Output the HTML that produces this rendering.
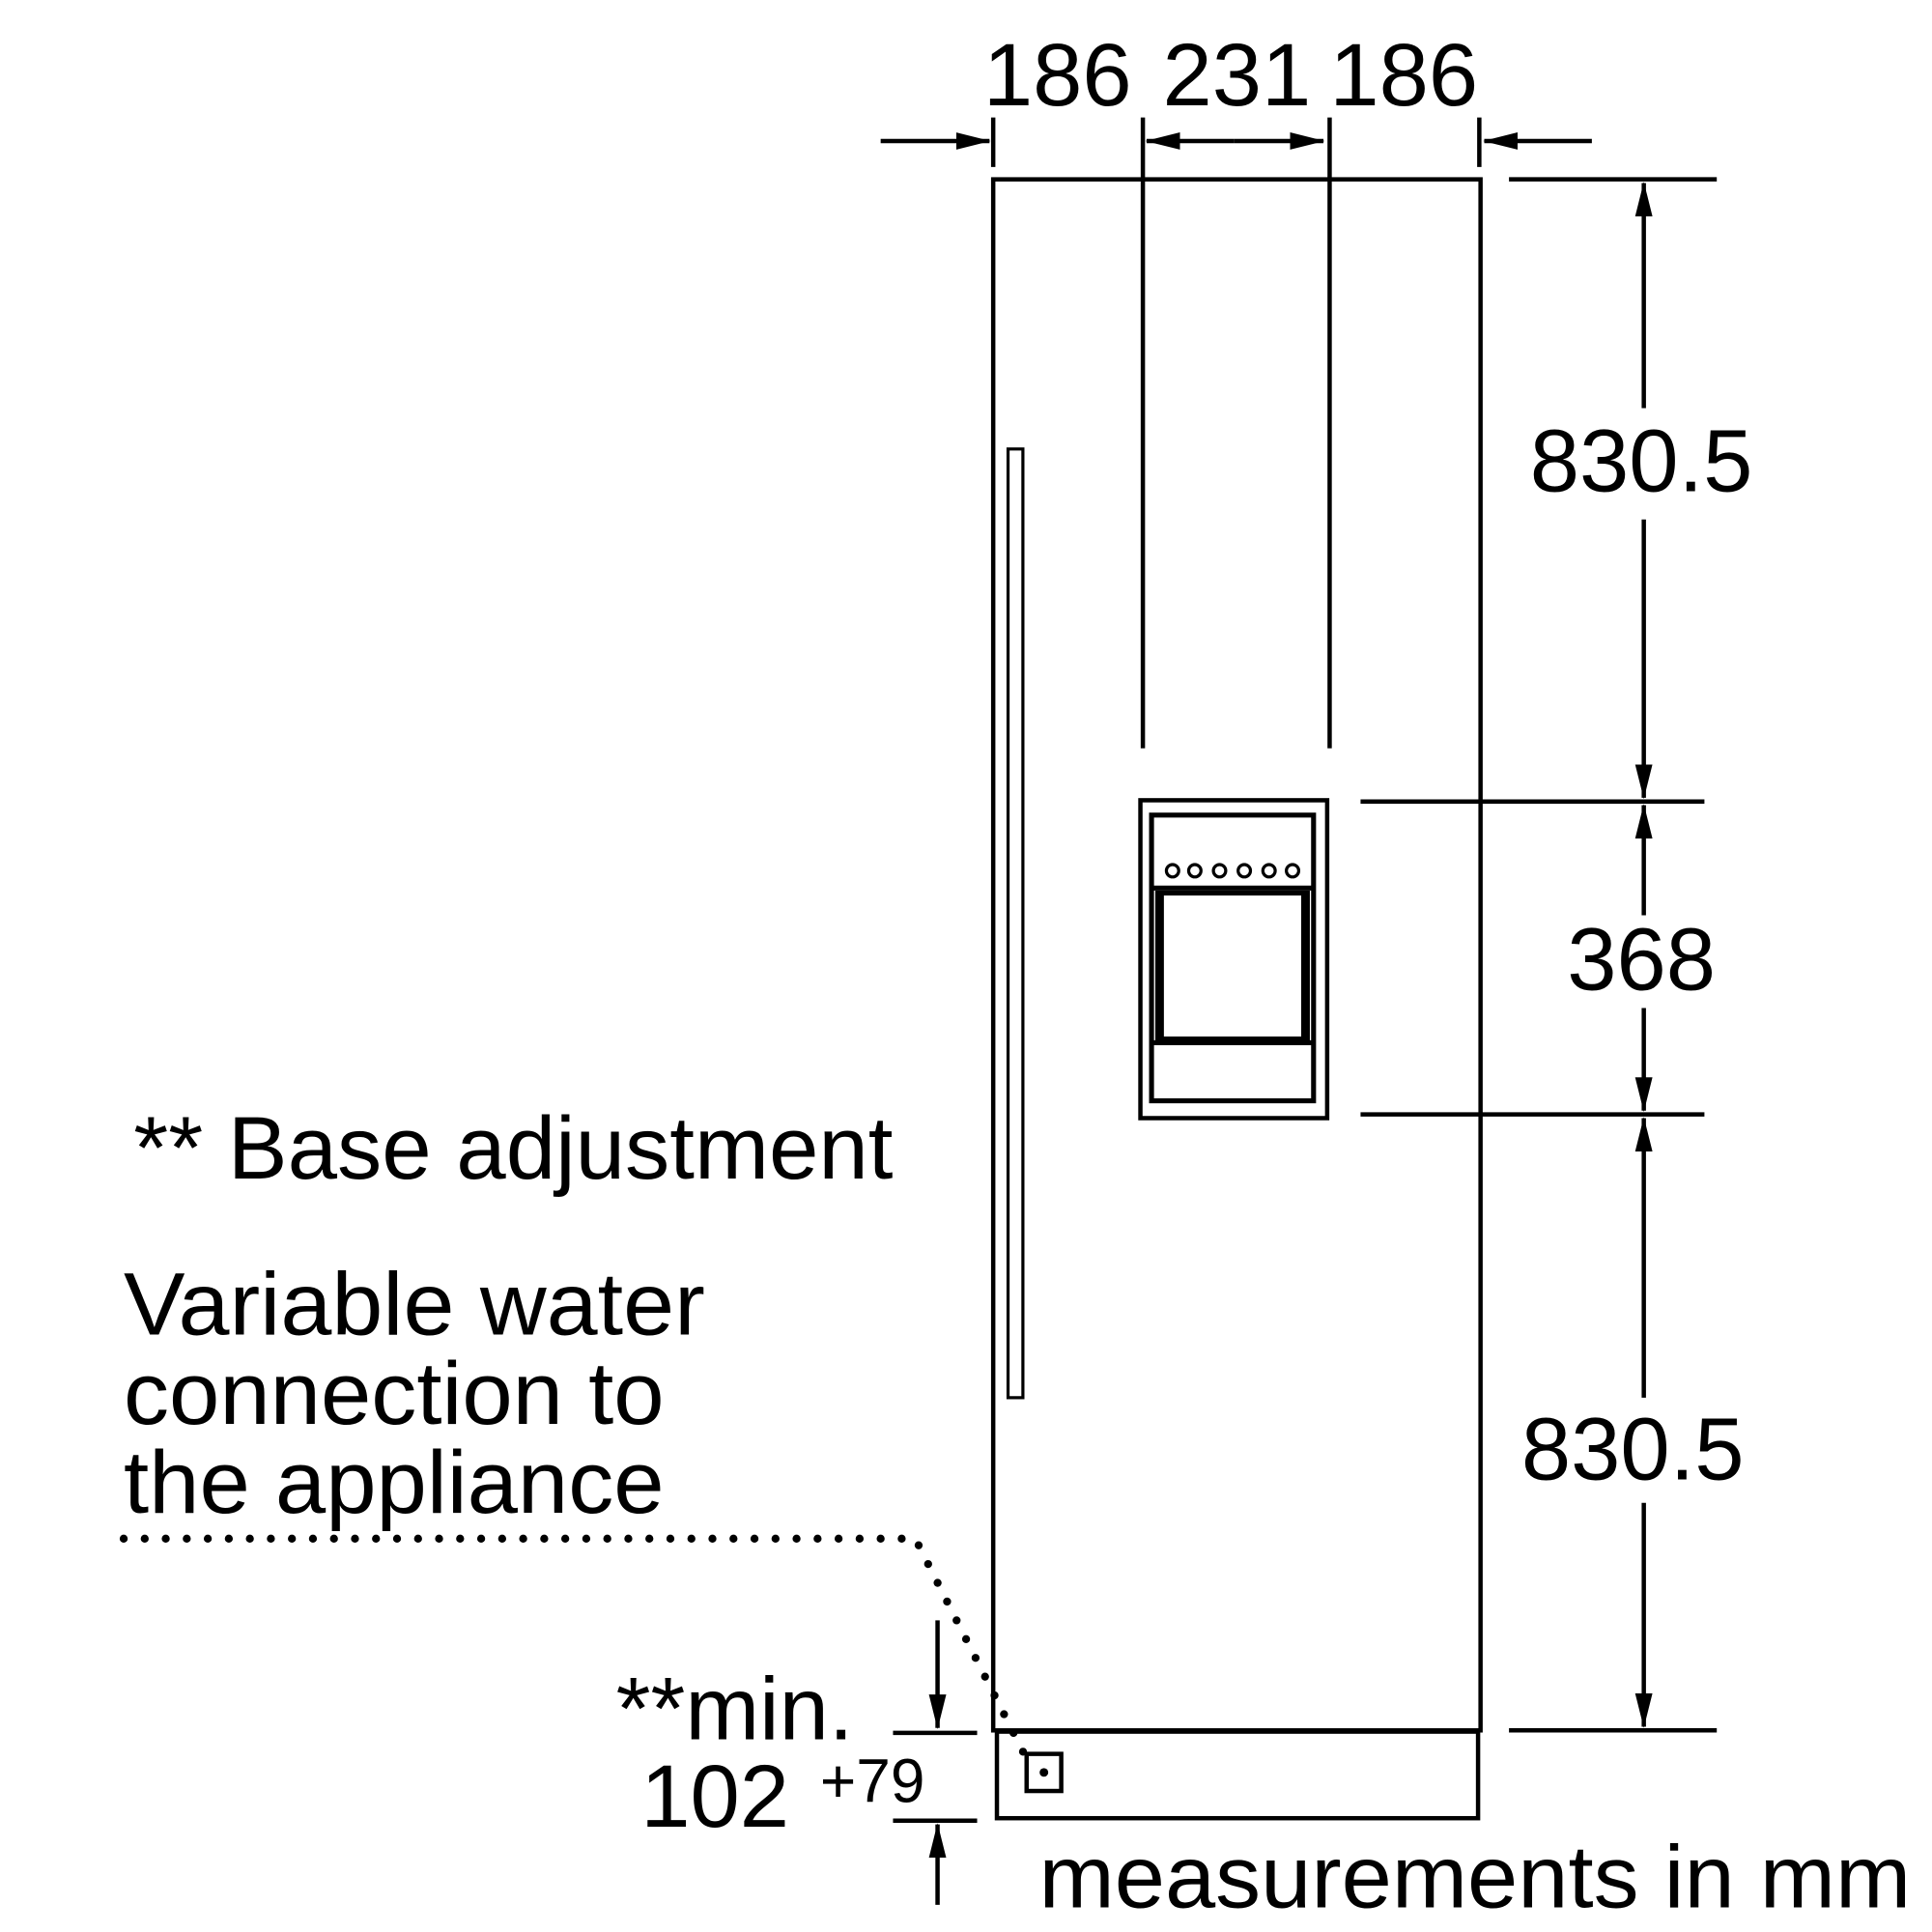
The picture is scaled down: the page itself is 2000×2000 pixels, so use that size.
<!DOCTYPE html>
<html><head><style>html,body{margin:0;padding:0;background:#fff}svg{display:block}</style></head>
<body>
<svg width="2000" height="2000" viewBox="0 0 1562 1562" xmlns="http://www.w3.org/2000/svg" font-family="Liberation Sans, sans-serif" fill="#000">
<defs>
<marker id="a" markerWidth="28" markerHeight="14" refX="27" refY="7" orient="auto" markerUnits="userSpaceOnUse" viewBox="0 0 28 14"><path d="M0,0 L28,7 L0,14 z"/></marker>
</defs>
<g stroke="#000" fill="none" stroke-width="3.5">
<rect x="803" y="145" width="394" height="1254"/>
<rect x="806" y="1400" width="389" height="70"/>
<rect x="815" y="363" width="12" height="767" stroke-width="2.5"/>
<line x1="924" y1="145" x2="924" y2="605"/>
<line x1="1075" y1="145" x2="1075" y2="605"/>
<line x1="803" y1="95" x2="803" y2="135"/>
<line x1="924" y1="95" x2="924" y2="145"/>
<line x1="1075" y1="95" x2="1075" y2="145"/>
<line x1="1196" y1="95" x2="1196" y2="135"/>
<rect x="922" y="647" width="151" height="257"/>
<rect x="931" y="659" width="131" height="231" stroke-width="4"/>
<line x1="931" y1="718" x2="1062" y2="718" stroke-width="4"/>
<rect x="936" y="722" width="121" height="118" stroke-width="4"/>
<line x1="938" y1="722" x2="938" y2="840" stroke-width="6"/>
<line x1="1055" y1="722" x2="1055" y2="840" stroke-width="6"/>
<line x1="931" y1="843" x2="1062" y2="843" stroke-width="4"/>
<g stroke-width="2.5"><circle cx="948" cy="704" r="5"/><circle cx="966" cy="704" r="5"/><circle cx="986" cy="704" r="5"/><circle cx="1006" cy="704" r="5"/><circle cx="1026" cy="704" r="5"/><circle cx="1045" cy="704" r="5"/></g>
<line x1="1220" y1="145" x2="1388" y2="145"/>
<line x1="1100" y1="648" x2="1378" y2="648"/>
<line x1="1100" y1="901" x2="1378" y2="901"/>
<line x1="1220" y1="1399" x2="1388" y2="1399"/>
<line x1="722" y1="1401" x2="790" y2="1401"/>
<line x1="722" y1="1472" x2="790" y2="1472"/>
<rect x="830" y="1418" width="28" height="30"/>
</g>
<g stroke="#000" stroke-width="3.5" marker-end="url(#a)">
<line x1="712" y1="114" x2="800" y2="114"/>
<line x1="1287" y1="114" x2="1200" y2="114"/>
<line x1="998" y1="114" x2="927" y2="114"/>
<line x1="998" y1="114" x2="1070" y2="114"/>
<line x1="1329" y1="330" x2="1329" y2="148"/>
<line x1="1329" y1="420" x2="1329" y2="645"/>
<line x1="1329" y1="740" x2="1329" y2="651"/>
<line x1="1329" y1="815" x2="1329" y2="898"/>
<line x1="1329" y1="1130" x2="1329" y2="904"/>
<line x1="1329" y1="1215" x2="1329" y2="1396"/>
<line x1="758" y1="1310" x2="758" y2="1397"/>
<line x1="758" y1="1540" x2="758" y2="1475"/>
</g>
<path d="M100,1244 L740,1244 L830,1422" stroke="#000" stroke-width="6.5" stroke-linecap="round" stroke-dasharray="0 17" fill="none"/>
<circle cx="844" cy="1433" r="3.5"/>
<g font-size="72">
<text x="855" y="85" text-anchor="middle">186</text>
<text x="1000" y="85" text-anchor="middle">231</text>
<text x="1135" y="85" text-anchor="middle">186</text>
<text x="1327" y="397" text-anchor="middle">830.5</text>
<text x="1327" y="800" text-anchor="middle">368</text>
<text x="1320" y="1196" text-anchor="middle">830.5</text>
<text x="108" y="953" textLength="614" lengthAdjust="spacingAndGlyphs">** Base adjustment</text>
<text x="100" y="1079" textLength="470" lengthAdjust="spacingAndGlyphs">Variable water</text>
<text x="100" y="1151" textLength="437" lengthAdjust="spacingAndGlyphs">connection to</text>
<text x="100" y="1223" textLength="437" lengthAdjust="spacingAndGlyphs">the appliance</text>
<text x="498" y="1406">**min.</text>
<text x="518" y="1477">102</text>
<text x="840" y="1542" textLength="705" lengthAdjust="spacingAndGlyphs">measurements in mm</text>
</g>
<text x="663" y="1457" font-size="50">+79</text>
</svg>
</body></html>
